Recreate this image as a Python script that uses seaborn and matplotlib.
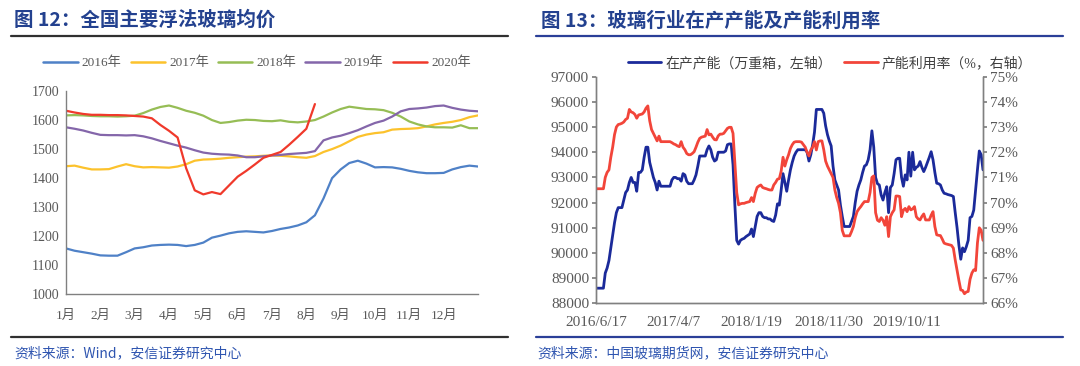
"""Recreate the two glass market charts (price by year, capacity and utilisation)."""

import matplotlib

matplotlib.use("Agg")

import matplotlib.pyplot as plt
import numpy as np
import pandas as pd
import seaborn as sns
from matplotlib.lines import Line2D

# ---- left chart: national float glass average price, one value every quarter month ----
MONTH_LABELS = ["1月", "2月", "3月", "4月", "5月", "6月", "7月", "8月", "9月", "10月", "11月", "12月"]
YEARS = ["2016年", "2017年", "2018年", "2019年", "2020年"]

price_2016 = [1158, 1150, 1145, 1140, 1134, 1133, 1133, 1145, 1158, 1162,
              1168, 1170, 1171, 1170, 1166, 1170, 1178, 1195, 1202, 1210,
              1215, 1217, 1215, 1213, 1218, 1225, 1230, 1237, 1248, 1272,
              1330, 1400, 1430, 1452, 1460, 1450, 1437, 1438, 1437, 1432,
              1425, 1420, 1417, 1417, 1418, 1430, 1438, 1443, 1440]
price_2017 = [1441, 1443, 1436, 1430, 1430, 1431, 1440, 1448, 1441, 1437,
              1438, 1437, 1436, 1440, 1448, 1460, 1464, 1465, 1467, 1470,
              1472, 1474, 1475, 1477, 1478, 1477, 1475, 1472, 1470, 1476,
              1490, 1500, 1512, 1527, 1542, 1550, 1555, 1558, 1567, 1569,
              1570, 1572, 1578, 1585, 1590, 1594, 1600, 1610, 1616]
price_2018 = [1616, 1617, 1616, 1614, 1613, 1613, 1612, 1613, 1615, 1624,
              1636, 1645, 1650, 1642, 1632, 1625, 1615, 1600, 1590, 1593,
              1598, 1601, 1600, 1597, 1596, 1599, 1594, 1592, 1595, 1600,
              1612, 1626, 1638, 1646, 1642, 1638, 1637, 1634, 1625, 1612,
              1595, 1585, 1578, 1575, 1575, 1574, 1582, 1572, 1572]
price_2019 = [1575, 1570, 1564, 1556, 1549, 1548, 1548, 1547, 1548, 1544,
              1537, 1528, 1520, 1512, 1505, 1496, 1488, 1484, 1482, 1481,
              1478, 1472, 1472, 1475, 1478, 1480, 1483, 1485, 1487, 1493,
              1530, 1540, 1546, 1555, 1565, 1578, 1590, 1598, 1612, 1630,
              1638, 1640, 1643, 1648, 1650, 1642, 1636, 1632, 1630]
price_2020 = [1632, 1626, 1621, 1618, 1618, 1617, 1617, 1616, 1614, 1612,
              1606, 1583, 1563, 1540, 1434, 1358, 1344, 1352, 1345, 1375,
              1405, 1425, 1447, 1470, 1480, 1490, 1515, 1542, 1570, 1655]

# ---- right chart: capacity in production (10k boxes) and utilisation rate (%) ----
capacity = [88600, 88600, 88600, 88600, 88600, 89200, 89400, 89700, 90200, 90700,
            91200, 91600, 91800, 91800, 91800, 92100, 92400, 92500, 92800, 93000,
            92800, 92800, 92450, 93200, 93200, 93300, 93800, 94200, 94200, 93600,
            93300, 93000, 92800, 92500, 92850, 92650, 92650, 92650, 92650, 92650,
            92650, 92900, 93000, 93000, 92950, 92950, 92850, 93150, 93100, 92850,
            92750, 92750, 92750, 92900, 93100, 93450, 93850, 93850, 93850, 93850,
            94100, 94250, 94100, 93800, 93650, 93700, 94000, 94000, 94000, 94000,
            94050, 94300, 94330, 94330, 93500, 91900, 90500, 90350, 90500, 90550,
            90580, 90650, 90700, 90750, 90950, 90650, 91050, 91450, 91600, 91600,
            91450, 91400, 91400, 91350, 91350, 91280, 91250, 91500, 91950, 91900,
            92500, 93150, 92800, 92450, 92900, 93300, 93600, 93850, 94000, 94100,
            94100, 94100, 94100, 94100, 94000, 93650, 93900, 94300, 94800, 95700,
            95700, 95700, 95700, 95550, 95050, 94700, 94450, 94250, 93450, 92900,
            92700, 92500, 91900, 91450, 91050, 91050, 91050, 91050, 91250, 91450,
            92000, 92450, 92700, 92900, 93200, 93450, 93500, 93700, 94100, 94850,
            94200, 93000, 92750, 92700, 92300, 92100, 92400, 92630, 91600, 92600,
            92700, 93150, 93700, 93760, 93760, 93000, 92650, 93100, 92900, 94000,
            93050, 94000, 93300, 93400, 93450, 93630, 93400, 93230, 93400, 93600,
            93800, 94020, 93700, 93200, 92770, 92750, 92700, 92500, 92370, 92350,
            92320, 92300, 92280, 92240, 91600, 91000, 90300, 89750, 90200, 90050,
            90250, 90500, 91400, 91450, 91700, 92500, 93300, 94050, 93900, 93300]
utilisation = [70.55, 70.55, 70.55, 70.55, 70.55, 71.0, 71.2, 71.3, 71.8, 72.2,
               72.7, 73.0, 73.1, 73.12, 73.15, 73.2, 73.3, 73.35, 73.7, 73.6,
               73.57, 73.5, 73.35, 73.48, 73.5, 73.52, 73.6, 73.75, 73.84, 73.25,
               72.9, 72.75, 72.6, 72.45, 72.64, 72.42, 72.42, 72.42, 72.42, 72.42,
               72.42, 72.38, 72.33, 72.3, 72.25, 72.22, 72.42, 72.2, 72.1, 71.95,
               71.9, 71.9, 71.95, 72.02, 72.2, 72.4, 72.55, 72.6, 72.62, 72.64,
               72.9, 72.69, 72.72, 72.6, 72.5, 72.49, 72.65, 72.72, 72.72, 72.75,
               72.85, 72.95, 72.99, 72.99, 72.75, 71.6, 70.4, 69.91, 69.95, 69.97,
               69.97, 70.0, 70.02, 70.04, 70.2, 70.04, 70.37, 70.6, 70.66, 70.7,
               70.6, 70.57, 70.55, 70.52, 70.5, 70.5, 70.7, 70.8, 70.93, 70.95,
               71.25, 71.8, 71.45, 71.7, 71.9, 72.15, 72.3, 72.4, 72.42, 72.42,
               72.42, 72.4, 72.3, 72.2, 72.0, 71.85, 72.09, 72.2, 72.42, 72.09,
               72.42, 72.45, 72.45, 72.1, 71.65, 71.45, 71.3, 71.15, 71.0, 70.5,
               70.2, 69.97, 69.6, 68.9, 68.68, 68.68, 68.68, 68.68, 68.85, 69.05,
               69.4, 69.64, 69.75, 69.84, 69.95, 70.04, 70.04, 70.04, 70.4, 71.0,
               71.06, 69.6, 69.3, 69.25, 69.4, 69.3, 69.1, 69.44, 68.65, 69.44,
               69.6, 69.71, 70.26, 70.26, 70.24, 69.44, 69.7, 69.77, 69.64, 69.84,
               69.71, 69.75, 69.84, 69.44, 69.35, 69.31, 69.45, 69.55, 69.31, 69.31,
               69.31, 69.5, 69.64, 69.05, 68.72, 68.7, 68.69, 68.55, 68.39, 68.36,
               68.34, 68.32, 68.3, 68.19, 67.72, 67.3, 66.9, 66.53, 66.51, 66.38,
               66.45, 66.47, 66.95, 67.2, 67.33, 67.3, 68.4, 69.0, 68.9, 68.5]
DATE_LABELS = ["2016/6/17", "2017/4/7", "2018/1/19", "2018/11/30", "2019/10/11"]
LABEL_STEP = 42

YEAR_COLORS = ["#4f81c7", "#fcc22c", "#96bd55", "#8466aa", "#f0392b"]
CAP_COLOR = "#1b2a9a"
RATE_COLOR = "#f2453a"
TITLE_BLUE = "#23418f"
TICK_GREY = "#595959"
SPINE_GREY = "#808080"

FIG_W, FIG_H = 1080, 366


def fx(px):
    return px / FIG_W


def fy(py):
    return 1 - py / FIG_H


def draw_price(fig):
    ax = fig.add_axes([fx(66), fy(294.3), fx(412), 203.3 / FIG_H])
    frames = []
    for year, values in zip(YEARS, [price_2016, price_2017, price_2018, price_2019, price_2020]):
        frames.append(pd.DataFrame({"month": np.arange(len(values)) * 0.25, "price": values, "year": year}))
    df = pd.concat(frames, ignore_index=True)
    sns.lineplot(data=df, x="month", y="price", hue="year", hue_order=YEARS,
                 palette=dict(zip(YEARS, YEAR_COLORS)), estimator=None, sort=False,
                 linewidth=1.6, legend=False, ax=ax)

    ax.set_xlim(0, 12)
    ax.set_ylim(1000, 1700)
    ax.set_yticks(range(1000, 1701, 100))
    ax.set_xticks(range(0, 13))
    ax.set_xticklabels(MONTH_LABELS + [""])
    ax.set_xlabel("")
    ax.set_ylabel("")
    for side in ("top", "right"):
        ax.spines[side].set_visible(False)
    for side in ("left", "bottom"):
        ax.spines[side].set_color(SPINE_GREY)
        ax.spines[side].set_linewidth(1.0)
    ax.tick_params(axis="y", direction="out", length=3, color=SPINE_GREY,
                   labelsize=10, labelcolor=TICK_GREY, pad=2)
    ax.tick_params(axis="x", direction="in", length=4, color=SPINE_GREY,
                   labelsize=9.5, labelcolor=TICK_GREY, pad=11)

    handles = [Line2D([], [], color=c, lw=1.8) for c in YEAR_COLORS]
    fig.legend(handles, YEARS, loc="center", bbox_to_anchor=(fx(257), fy(63)), ncol=5,
               frameon=False, fontsize=9.5, labelcolor=TICK_GREY, handlelength=2.6,
               handletextpad=0.3, columnspacing=0.7)


def draw_capacity(fig):
    ax = fig.add_axes([fx(596), fy(303.3), fx(387), 226.6 / FIG_H])
    df = pd.DataFrame({"idx": np.arange(len(capacity)), "capacity": capacity, "rate": utilisation})
    sns.lineplot(data=df, x="idx", y="capacity", color=CAP_COLOR, linewidth=2.0, ax=ax)
    axr = ax.twinx()
    sns.lineplot(data=df, x="idx", y="rate", color=RATE_COLOR, linewidth=2.0, ax=axr)

    n = len(capacity)
    ax.set_xlim(0, n - 1)
    ax.set_ylim(88000, 97000)
    ax.set_yticks(range(88000, 97001, 1000))
    axr.set_ylim(66, 75)
    axr.set_yticks(range(66, 76))
    axr.set_yticklabels([f"{v}%" for v in range(66, 76)])
    ax.set_xticks(range(0, LABEL_STEP * len(DATE_LABELS), LABEL_STEP))
    ax.set_xticklabels(DATE_LABELS)
    ax.set_xticks(range(n), minor=True)
    for a in (ax, axr):
        a.set_xlabel("")
        a.set_ylabel("")
        a.spines["top"].set_visible(False)
        for side in ("left", "right", "bottom"):
            a.spines[side].set_color(SPINE_GREY)
            a.spines[side].set_linewidth(1.0)
    ax.tick_params(axis="y", direction="out", length=3, color=SPINE_GREY,
                   labelsize=11, labelcolor=TICK_GREY, pad=2)
    axr.tick_params(axis="y", direction="out", length=3, color=SPINE_GREY,
                    labelsize=11, labelcolor=TICK_GREY, pad=2)
    ax.tick_params(axis="x", which="both", direction="in", length=3, width=0.6,
                   color="#606060", labelsize=11, labelcolor=TICK_GREY, pad=9)

    handles = [Line2D([], [], color=CAP_COLOR, lw=2.0), Line2D([], [], color=RATE_COLOR, lw=2.0)]
    fig.legend(handles, ["在产产能（万重箱，左轴）", "产能利用率（%，右轴）"], loc="center",
               bbox_to_anchor=(fx(830), fy(63)), ncol=2, frameon=False, fontsize=10,
               labelcolor="#404040", handlelength=2.4, handletextpad=0.3, columnspacing=0.9)


def decorate(fig):
    cjk = ["Noto Sans CJK SC", "DejaVu Sans"]
    fig.text(fx(14), fy(20.5), "图 12：全国主要浮法玻璃均价", color=TITLE_BLUE, fontsize=14,
             fontweight="bold", family=cjk, va="center", ha="left")
    fig.text(fx(541), fy(20.5), "图 13：玻璃行业在产产能及产能利用率", color=TITLE_BLUE, fontsize=14,
             fontweight="bold", family=cjk, va="center", ha="left")
    fig.add_artist(Line2D([fx(11), fx(508)], [fy(36), fy(36)], color="#303030", lw=1.6))
    fig.add_artist(Line2D([fx(536), fx(1063)], [fy(36), fy(36)], color="#2b3f98", lw=1.6))
    fig.add_artist(Line2D([fx(11), fx(508)], [fy(337), fy(337)], color="#303030", lw=1.6))
    fig.add_artist(Line2D([fx(536), fx(1063)], [fy(337), fy(337)], color="#2b3f98", lw=1.6))
    fig.text(fx(14), fy(353), "资料来源：Wind，安信证券研究中心", color="#2f55b0", fontsize=10,
             family=cjk, va="center", ha="left", style="italic")
    fig.text(fx(537), fy(353), "资料来源：中国玻璃期货网，安信证券研究中心", color="#2f55b0", fontsize=10,
             family=cjk, va="center", ha="left", style="italic")


def main():
    sns.set_theme(style="white")
    plt.rcParams["font.family"] = ["Liberation Serif", "Noto Sans CJK SC", "DejaVu Sans"]
    plt.rcParams["axes.unicode_minus"] = False
    fig = plt.figure(figsize=(FIG_W / 100, FIG_H / 100), dpi=100)
    draw_price(fig)
    draw_capacity(fig)
    decorate(fig)
    fig.savefig("out.png", dpi=100, facecolor="white")
    plt.close(fig)


if __name__ == "__main__":
    main()
